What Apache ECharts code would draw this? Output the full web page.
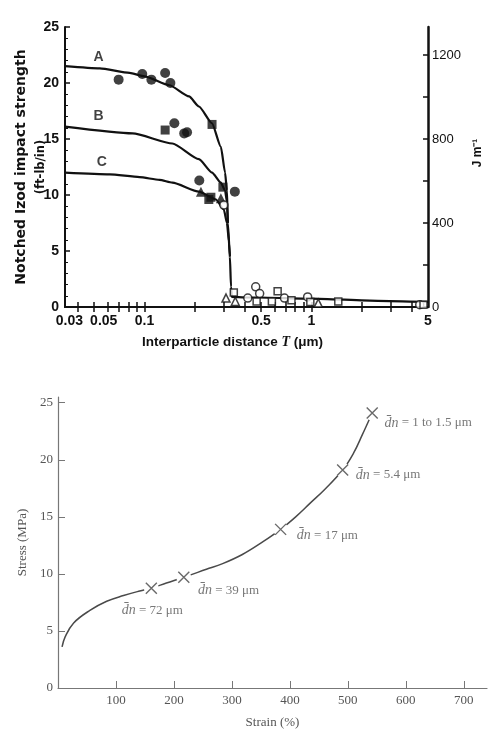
<!DOCTYPE html>
<html>
<head>
<meta charset="utf-8">
<script src="https://cdn.jsdelivr.net/npm/echarts@6/dist/echarts.min.js"></script>
<style>
  html, body { margin: 0; padding: 0; background: #fff; }
  #chart { width: 502px; height: 733px; }
</style>
</head>
<body>
<div id="chart"></div>
<script>
// ---- top chart: impact strength vs interparticle distance ----
const curveNames = ["A", "B", "C"];
const curveA_T = [0.0334, 0.054, 0.0814, 0.1, 0.141, 0.185, 0.212, 0.254, 0.287, 0.304, 0.312, 0.316, 0.325, 0.330, 0.334, 0.40, 0.484, 1, 2.5, 5];
const curveA_V = [21.5, 21.3, 20.9, 20.6, 19.8, 18.8, 17.9, 16.4, 14.3, 12.0, 10.4, 7.5, 4.5, 1.8, 0.9, 0.85, 0.85, 0.75, 0.55, 0.45];
const curveB_T = [0.0334, 0.0849, 0.147, 0.212, 0.254, 0.287, 0.304, 0.312, 0.316];
const curveB_V = [16.1, 15.5, 14.6, 13.2, 12.0, 11.1, 10.4, 9.4, 7.5];
const curveC_T = [0.0334, 0.0619, 0.0934, 0.123, 0.147, 0.212, 0.268, 0.299, 0.312, 0.321, 0.325];
const curveC_V = [12.0, 11.85, 11.6, 11.35, 11.1, 10.3, 9.6, 8.7, 7.5, 5.8, 4.5];
const labelT = [0.053, 0.053, 0.0555];
const labelV = [22.3, 17.0, 12.9];

const fillCircleT = [0.070, 0.097, 0.110, 0.133, 0.143, 0.151, 0.173, 0.180, 0.213, 0.348];
const fillCircleV = [20.3, 20.8, 20.3, 20.9, 20.0, 16.4, 15.5, 15.6, 11.3, 10.3];
const fillSquareT = [0.254, 0.133, 0.25, 0.243, 0.295];
const fillSquareV = [16.3, 15.8, 9.8, 9.6, 10.7];
const fillTriT = [0.218, 0.287];
const fillTriV = [10.3, 9.7];
const openCircleT = [0.299, 0.416, 0.464, 0.49, 0.69, 0.95, 4.46];
const openCircleV = [9.1, 0.8, 1.8, 1.2, 0.8, 0.9, 0.2];
const openSquareT = [0.343, 0.47, 0.58, 0.628, 0.76, 0.986, 1.45, 4.7];
const openSquareV = [1.3, 0.5, 0.5, 1.4, 0.6, 0.45, 0.5, 0.2];
const openTriT = [0.308, 0.35, 1.1];
const openTriV = [0.8, 0.5, 0.35];

const topXLabelVals = [0.0355, 0.057, 0.1, 0.5, 1, 5];
const topXLabels = ["0.03", "0.05", "0.1", "0.5", "1", "5"];
const topXTicks = [0.04, 0.05, 0.06, 0.07, 0.08, 0.09, 0.1, 0.2, 0.3, 0.4, 0.5, 0.6, 0.7, 0.8, 0.9, 1, 2, 3, 4];
const leftTicks = [0, 5, 10, 15, 20, 25];
const rightLabels = [0, 400, 800, 1200];
const rightTicks = [0, 200, 400, 600, 800, 1000, 1200];

// ---- bottom chart: stress vs strain ----
const strain = [7, 12.5, 27, 55, 84, 113, 141, 161, 187, 217, 256, 284, 318, 353, 384, 410, 435, 460, 491, 510, 525, 542];
const stress = [3.6, 4.5, 5.7, 6.8, 7.6, 8.1, 8.5, 8.75, 9.2, 9.7, 10.4, 10.9, 11.7, 12.8, 13.9, 15.0, 16.2, 17.4, 19.1, 20.6, 22.2, 24.1];
const noteStrain = [161, 217, 384, 491, 542];
const noteStress = [8.75, 9.7, 13.9, 19.1, 24.1];
const noteText = ["72 μm", "39 μm", "17 μm", "5.4 μm", "1 to 1.5 μm"];
const strainTicks = [100, 200, 300, 400, 500, 600, 700];
const stressTicks = [0, 5, 10, 15, 20, 25];

// label placement for the notes (style, not data)
const notePlace = [
  { position: "bottom", distance: 9, offset: [1, 0] },
  { position: "right", offset: [3, 13] },
  { position: "right", offset: [5, 6] },
  { position: "right", offset: [2, 5] },
  { position: "right", offset: [1, 10] },
];

const INK = "#111";
const GREY = "#555";
const J_PER_FTLB = 53.38;

function zip(a, b) {
  return a.map((v, i) => [v, b[i]]);
}

const chart = echarts.init(document.getElementById("chart"));

const scatterBase = {
  type: "scatter",
  xAxisIndex: 0,
  yAxisIndex: 0,
  symbolSize: 10,
  z: 5,
};

const option = {
  backgroundColor: "#fff",
  animation: false,
  grid: [
    { left: 65, top: 27, width: 363, height: 280, outerBoundsMode: "none" },
    { left: 58, top: 397, width: 429, height: 291, outerBoundsMode: "none" },
  ],
  xAxis: [
    {
      type: "log",
      gridIndex: 0,
      min: 0.0334,
      max: 5,
      position: "bottom",
      name: "Interparticle distance {i|T} (μm)",
      nameLocation: "middle",
      nameGap: 28,
      nameTextStyle: {
        color: INK,
        fontFamily: "Liberation Sans",
        fontWeight: "bold",
        fontSize: 13.5,
        padding: [0, 28, 0, 0],
        rich: { i: { fontStyle: "italic", fontWeight: "bold", fontSize: 14, fontFamily: "Liberation Serif" } },
      },
      axisLine: { lineStyle: { color: INK, width: 2 } },
      axisTick: { inside: true, length: 5, customValues: topXTicks, lineStyle: { color: INK, width: 1.5 } },
      axisLabel: {
        customValues: topXLabelVals,
        formatter: (v) => {
          const i = topXLabelVals.findIndex((t) => Math.abs(t - v) / t < 0.01);
          return i >= 0 ? topXLabels[i] : "";
        },
        color: INK,
        fontFamily: "Liberation Sans",
        fontWeight: "bold",
        fontSize: 14,
        margin: 7,
      },
      splitLine: { show: false },
    },
    {
      type: "log",
      gridIndex: 0,
      min: 0.0334,
      max: 5,
      position: "top",
      axisLine: { lineStyle: { color: INK, width: 2 } },
      axisTick: { inside: true, length: 5, customValues: topXTicks, lineStyle: { color: INK, width: 1.5 } },
      axisLabel: { show: false },
      splitLine: { show: false },
    },
    {
      type: "value",
      gridIndex: 1,
      min: 0,
      max: 740,
      name: "Strain (%)",
      nameLocation: "middle",
      nameGap: 28,
      nameTextStyle: { color: GREY, fontFamily: "Liberation Serif", fontSize: 13 },
      axisLine: { lineStyle: { color: "#777", width: 1.2 } },
      axisTick: { inside: true, length: 7, customValues: strainTicks, lineStyle: { color: "#777" } },
      axisLabel: { customValues: strainTicks, color: GREY, fontFamily: "Liberation Serif", fontSize: 13, margin: 6 },
      splitLine: { show: false },
    },
  ],
  yAxis: [
    {
      type: "value",
      gridIndex: 0,
      min: 0,
      max: 25,
      position: "left",
      name: "{a|Notched Izod impact strength}\n{b|(ft-lb/in)}",
      nameLocation: "middle",
      nameRotate: 90,
      nameGap: 14,
      nameMoveOverlap: false,
      nameTextStyle: {
        color: INK,
        align: "center",
        rich: {
          a: { fontFamily: "DejaVu Sans", fontWeight: "bold", fontSize: 14, lineHeight: 20, color: INK },
          b: { fontFamily: "DejaVu Sans", fontWeight: "bold", fontSize: 11.5, lineHeight: 20, color: INK },
        },
      },
      axisLine: { lineStyle: { color: INK, width: 2 } },
      axisTick: { inside: true, length: 5, customValues: leftTicks, lineStyle: { color: INK, width: 1.5 } },
      minorTick: { show: true, splitNumber: 5, length: 3, lineStyle: { color: INK } },
      axisLabel: {
        customValues: leftTicks,
        color: INK,
        fontFamily: "Liberation Sans",
        fontWeight: "bold",
        fontSize: 14,
        margin: 6,
      },
      splitLine: { show: false },
      minorSplitLine: { show: false },
    },
    {
      type: "value",
      gridIndex: 0,
      min: 0,
      max: 25 * J_PER_FTLB,
      position: "right",
      name: "J m⁻¹",
      nameLocation: "middle",
      nameRotate: 90,
      nameGap: 30,
      nameTextStyle: { color: INK, fontFamily: "Liberation Sans", fontWeight: "bold", fontSize: 12, padding: [0, 0, 0, 28] },
      axisLine: { lineStyle: { color: INK, width: 2.5 } },
      axisTick: { inside: true, length: 5, customValues: rightTicks, lineStyle: { color: INK, width: 1.5 } },
      axisLabel: {
        customValues: rightLabels,
        formatter: (v) => String(v),
        color: INK,
        fontFamily: "Liberation Sans",
        fontSize: 13,
        margin: 4,
      },
      splitLine: { show: false },
    },
    {
      type: "value",
      gridIndex: 1,
      min: 0,
      max: 25.5,
      name: "Stress (MPa)",
      nameLocation: "middle",
      nameRotate: 90,
      nameGap: 21,
      nameTextStyle: { color: GREY, fontFamily: "Liberation Serif", fontSize: 13 },
      axisLine: { lineStyle: { color: "#777", width: 1.2 } },
      axisTick: { inside: true, length: 7, customValues: stressTicks, lineStyle: { color: "#777" } },
      axisLabel: { customValues: stressTicks, color: GREY, fontFamily: "Liberation Serif", fontSize: 13, margin: 5 },
      splitLine: { show: false },
    },
  ],
  series: [
    {
      name: "A",
      type: "line",
      xAxisIndex: 0,
      yAxisIndex: 0,
      data: zip(curveA_T, curveA_V),
      smooth: 0.2,
      smoothMonotone: "x",
      showSymbol: false,
      lineStyle: { color: INK, width: 2.2 },
    },
    {
      name: "B",
      type: "line",
      xAxisIndex: 0,
      yAxisIndex: 0,
      data: zip(curveB_T, curveB_V),
      smooth: 0.2,
      smoothMonotone: "x",
      showSymbol: false,
      lineStyle: { color: INK, width: 2.2 },
    },
    {
      name: "C",
      type: "line",
      xAxisIndex: 0,
      yAxisIndex: 0,
      data: zip(curveC_T, curveC_V),
      smooth: 0.2,
      smoothMonotone: "x",
      showSymbol: false,
      lineStyle: { color: INK, width: 2.2 },
    },
    {
      type: "scatter",
      xAxisIndex: 0,
      yAxisIndex: 0,
      symbolSize: 0,
      data: labelT.map((t, i) => ({ value: [t, labelV[i]], name: curveNames[i] })),
      label: {
        show: true,
        position: "inside",
        formatter: "{b}",
        color: INK,
        fontFamily: "Liberation Sans",
        fontWeight: "bold",
        fontSize: 14,
      },
    },
    Object.assign({}, scatterBase, { symbol: "circle", data: zip(fillCircleT, fillCircleV), itemStyle: { color: INK } }),
    Object.assign({}, scatterBase, { symbol: "rect", symbolSize: 9, data: zip(fillSquareT, fillSquareV), itemStyle: { color: INK } }),
    Object.assign({}, scatterBase, { symbol: "triangle", data: zip(fillTriT, fillTriV), itemStyle: { color: INK } }),
    Object.assign({}, scatterBase, {
      symbol: "circle",
      symbolSize: 8,
      data: zip(openCircleT, openCircleV),
      itemStyle: { color: "#fff", borderColor: INK, borderWidth: 1.5 },
    }),
    Object.assign({}, scatterBase, {
      symbol: "rect",
      symbolSize: 7,
      data: zip(openSquareT, openSquareV),
      itemStyle: { color: "#fff", borderColor: INK, borderWidth: 1.5 },
    }),
    Object.assign({}, scatterBase, {
      symbol: "triangle",
      symbolSize: 8,
      data: zip(openTriT, openTriV),
      itemStyle: { color: "#fff", borderColor: INK, borderWidth: 1.5 },
    }),
    {
      name: "stress-strain",
      type: "line",
      xAxisIndex: 2,
      yAxisIndex: 2,
      z: 2,
      data: zip(strain, stress),
      smooth: 0.4,
      showSymbol: false,
      lineStyle: { color: "#4a4a4a", width: 1.5 },
    },
    {
      // small white halo so the curve breaks around each cross
      type: "scatter",
      xAxisIndex: 2,
      yAxisIndex: 2,
      z: 4,
      symbol: "circle",
      symbolSize: 15,
      itemStyle: { color: "#ffffff", opacity: 1 },
      silent: true,
      data: zip(noteStrain, noteStress),
    },
    {
      type: "scatter",
      xAxisIndex: 2,
      yAxisIndex: 2,
      z: 6,
      symbol: "path://M0,0L10,10M10,0L0,10",
      symbolSize: 11,
      itemStyle: { color: "rgba(0,0,0,0)", borderColor: "#444", borderWidth: 1.4 },
      data: noteStrain.map((s, i) => ({
        value: [s, noteStress[i]],
        label: Object.assign({ show: true, formatter: "{i|d\u0304n} = " + noteText[i] }, notePlace[i]),
      })),
      label: {
        color: GREY,
        fontFamily: "Liberation Serif",
        fontSize: 13,
        rich: { i: { fontStyle: "italic", fontFamily: "Liberation Serif", fontSize: 14, color: GREY } },
      },
    },
  ],
};

chart.setOption(option);
</script>
</body>
</html>
